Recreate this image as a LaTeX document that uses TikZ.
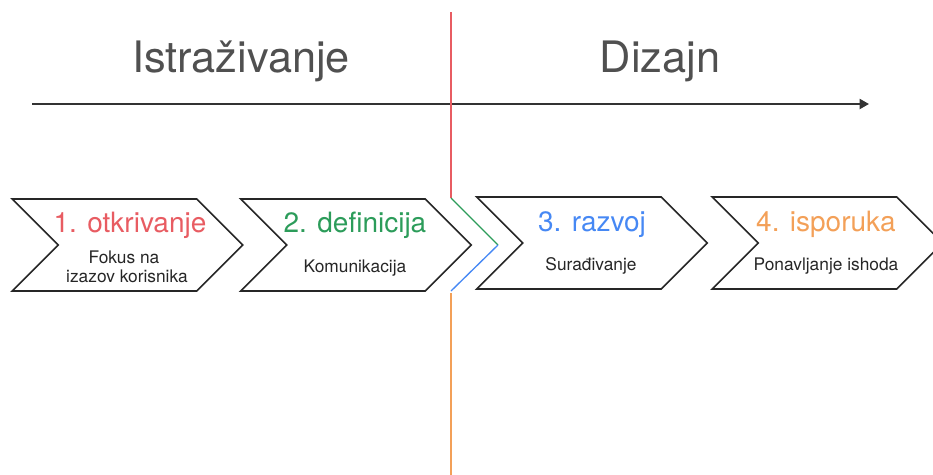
\documentclass[tikz,border=0pt]{standalone}
\usepackage{fontspec}
\setmainfont{TeX Gyre Heros}
\usetikzlibrary{shapes.symbols,arrows.meta}
\definecolor{ph_red}{RGB}{232, 92, 98}
\definecolor{ph_green}{RGB}{44, 156, 90}
\definecolor{ph_blue}{RGB}{70, 136, 244}
\definecolor{ph_orange}{RGB}{243, 160, 88}
\definecolor{ph_gray}{RGB}{80, 80, 80}
\tikzstyle{chev}=[signal,signal from=west,signal to=east,signal pointer angle=90,
  draw=black!85,line width=1.2pt,inner sep=0pt,minimum width=173pt,minimum height=69pt]
\tikzstyle{phase}=[text=ph_gray,anchor=base,font=\fontsize{32.5}{38}\selectfont]
\tikzstyle{head}=[anchor=base,font=\fontsize{21}{24}\selectfont]
\tikzstyle{sub}=[anchor=base,text=black!85,font=\fontsize{13}{16}\selectfont]
\tikzstyle{seam}=[line width=1pt]

\begin{document}
\begin{tikzpicture}[x=0.75pt,y=-0.75pt]
    \useasboundingbox (0,0) rectangle (933,475);
    \node [style=phase] (istr) at (241,72) {Istraživanje};
    \node [style=phase] (diz) at (660,72) {Dizajn};
    \coordinate (t0) at (32,104);
    \coordinate (t1) at (869,104);
    \draw [line width=1.5pt,draw=black!80,-{Triangle[length=7pt,width=7.5pt]}] (t0) to (t1);
    \node [style=chev] (otkr) at (127.5,245) {};
    \node [style=chev] (defi) at (356,245) {};
    \node [style=chev] (razv) at (592,243) {};
    \node [style=chev] (ispo) at (827.5,243) {};
    \node [style=head,text=ph_red] (otkr_h) at (130,232) {1. otkrivanje};
    \node [style=head,text=ph_green] (defi_h) at (355,232) {2. definicija};
    \node [style=head,text=ph_blue] (razv_h) at (592,231) {3. razvoj};
    \node [style=head,text=ph_orange] (ispo_h) at (826,231) {4. isporuka};
    \node [style=sub] (otkr_s1) at (124,263) {Fokus na};
    \node [style=sub] (otkr_s2) at (127,282) {izazov korisnika};
    \node [style=sub] (defi_s) at (355,272) {Komunikacija};
    \node [style=sub] (razv_s) at (591,270) {Surađivanje};
    \node [style=sub] (ispo_s) at (826,270) {Ponavljanje ishoda};
    \coordinate (s0) at (451,12);
    \coordinate (s1) at (451,198);
    \coordinate (s2) at (498,245);
    \coordinate (s3) at (451,291);
    \coordinate (s4) at (451,293);
    \coordinate (s5) at (451,475);
    \draw [style=seam,ph_red] (s0) to (s1);
    \draw [style=seam,ph_green] (s1) to (s2);
    \draw [style=seam,ph_blue] (s2) to (s3);
    \draw [style=seam,ph_orange] (s4) to (s5);
  \end{tikzpicture}
\end{document}
